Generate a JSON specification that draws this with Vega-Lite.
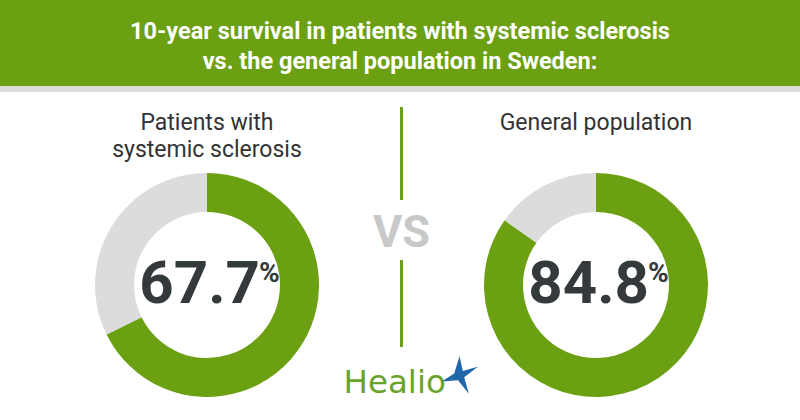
{
  "$schema": "https://vega.github.io/schema/vega-lite/v6.json",
  "padding": 0,
  "background": "#dcdcdc",
  "spacing": 6,
  "config": {"view": {"stroke": null}, "concat": {"spacing": 6}},
  "vconcat": [
    {
      "width": 800,
      "height": 86,
      "view": {"fill": "#6ba012", "stroke": null},
      "data": {"values": [
        {"line": 1, "text": "10-year survival in patients with systemic sclerosis"},
        {"line": 2, "text": "vs. the general population in Sweden:"}
      ]},
      "mark": {"type": "text", "font": "Roboto", "fontWeight": "bold", "fontSize": 23.5, "color": "#ffffff", "align": "center", "baseline": "alphabetic"},
      "encoding": {
        "y": {"field": "line", "type": "ordinal", "scale": {"type": "point", "domain": [1, 2], "range": [39, 69], "padding": 0}, "axis": null},
        "text": {"field": "text"}
      }
    },
    {
      "width": 800,
      "height": 328,
      "view": {"fill": "#ffffff", "stroke": null},
      "resolve": {"scale": {"y": "independent"}},
      "layer": [
        {
          "data": {"values": [
            {"col": "left", "line": 1, "text": "Patients with"},
            {"col": "left", "line": 2, "text": "systemic sclerosis"},
            {"col": "right", "line": 1, "text": "General population"}
          ]},
          "mark": {"type": "text", "font": "Roboto", "fontSize": 23, "color": "#333333", "align": "center", "baseline": "alphabetic"},
          "encoding": {
            "x": {"field": "col", "type": "nominal", "scale": {"type": "point", "domain": ["left", "mid", "right"], "range": [207, 596], "padding": 0}, "axis": null},
            "y": {"field": "line", "type": "ordinal", "scale": {"type": "point", "domain": [1, 2], "range": [38, 65], "padding": 0}, "axis": null},
            "text": {"field": "text"}
          }
        },
        {
          "data": {"values": [
            {"col": "left", "slot": "donut", "part": "survival", "start": 0, "end": 67.7},
            {"col": "left", "slot": "donut", "part": "other", "start": 67.7, "end": 100},
            {"col": "right", "slot": "donut", "part": "survival", "start": 0, "end": 84.8},
            {"col": "right", "slot": "donut", "part": "other", "start": 84.8, "end": 100}
          ]},
          "mark": {"type": "arc", "outerRadius": 112, "innerRadius": 73},
          "encoding": {
            "x": {"field": "col", "type": "nominal", "scale": {"type": "point", "domain": ["left", "mid", "right"], "range": [207, 596], "padding": 0}, "axis": null},
            "y": {"field": "slot", "type": "nominal", "scale": {"type": "point", "domain": ["donut"], "range": [193, 193], "padding": 0}, "axis": null},
            "theta": {"field": "start", "type": "quantitative", "stack": null, "scale": {"domain": [0, 100]}},
            "theta2": {"field": "end"},
            "color": {"field": "part", "type": "nominal", "scale": {"domain": ["survival", "other"], "range": ["#6ba012", "#dcdcdc"]}, "legend": null}
          }
        },
        {
          "data": {"values": [
            {"col": "left", "slot": "donut", "num": "67.7", "pct": "%"},
            {"col": "right", "slot": "donut", "num": "84.8", "pct": "%"}
          ]},
          "encoding": {
            "x": {"field": "col", "type": "nominal", "scale": {"type": "point", "domain": ["left", "mid", "right"], "range": [207, 596], "padding": 0}, "axis": null},
            "y": {"field": "slot", "type": "nominal", "scale": {"type": "point", "domain": ["donut"], "range": [193, 193], "padding": 0}, "axis": null}
          },
          "layer": [
            {
              "mark": {"type": "text", "font": "Roboto", "fontWeight": "bold", "fontSize": 60, "color": "#34393b", "align": "right", "baseline": "alphabetic", "dx": 53, "dy": 18},
              "encoding": {"text": {"field": "num"}}
            },
            {
              "mark": {"type": "text", "font": "Roboto", "fontWeight": "bold", "fontSize": 28, "color": "#34393b", "align": "left", "baseline": "alphabetic", "dx": 52, "dy": -3},
              "encoding": {"text": {"field": "pct"}}
            }
          ]
        },
        {
          "data": {"values": [{"col": "mid", "slot": "vs", "text": "VS"}]},
          "mark": {"type": "text", "font": "Roboto", "fontWeight": "bold", "fontSize": 45, "color": "#c8c8c8", "align": "center", "baseline": "alphabetic"},
          "encoding": {
            "x": {"field": "col", "type": "nominal", "scale": {"type": "point", "domain": ["left", "mid", "right"], "range": [207, 596], "padding": 0}, "axis": null},
            "y": {"field": "slot", "type": "nominal", "scale": {"type": "point", "domain": ["vs"], "range": [155, 155], "padding": 0}, "axis": null},
            "text": {"field": "text"}
          }
        },
        {
          "data": {"values": [{"col": "mid", "from": "start", "to": "end"}]},
          "mark": {"type": "rule", "color": "#6ba012", "strokeWidth": 3},
          "encoding": {
            "x": {"field": "col", "type": "nominal", "scale": {"type": "point", "domain": ["left", "mid", "right"], "range": [207, 596], "padding": 0}, "axis": null},
            "y": {"field": "from", "type": "nominal", "scale": {"type": "point", "domain": ["start", "end"], "range": [15, 108], "padding": 0}, "axis": null},
            "y2": {"field": "to"}
          }
        },
        {
          "data": {"values": [{"col": "mid", "from": "start", "to": "end"}]},
          "mark": {"type": "rule", "color": "#6ba012", "strokeWidth": 3},
          "encoding": {
            "x": {"field": "col", "type": "nominal", "scale": {"type": "point", "domain": ["left", "mid", "right"], "range": [207, 596], "padding": 0}, "axis": null},
            "y": {"field": "from", "type": "nominal", "scale": {"type": "point", "domain": ["start", "end"], "range": [168, 255], "padding": 0}, "axis": null},
            "y2": {"field": "to"}
          }
        },
        {
          "data": {"values": [{"col": "mid", "slot": "logo", "text": "Healio"}]},
          "mark": {"type": "text", "font": "DejaVu Sans", "fontSize": 32.5, "color": "#6aa32a", "align": "left", "baseline": "alphabetic", "dx": -58},
          "encoding": {
            "x": {"field": "col", "type": "nominal", "scale": {"type": "point", "domain": ["left", "mid", "right"], "range": [207, 596], "padding": 0}, "axis": null},
            "y": {"field": "slot", "type": "nominal", "scale": {"type": "point", "domain": ["logo"], "range": [301, 301], "padding": 0}, "axis": null},
            "text": {"field": "text"}
          }
        },
        {
          "data": {"values": [{"col": "mid", "slot": "star"}]},
          "mark": {"type": "point", "filled": true, "color": "#2166a8", "opacity": 1, "size": 1400, "shape": "M0,-1 L0.18,-0.22 L1,-0.45 L0.25,0.12 L0.5,1 L-0.08,0.28 L-0.95,0.35 L-0.28,-0.08 Z", "xOffset": 58},
          "encoding": {
            "x": {"field": "col", "type": "nominal", "scale": {"type": "point", "domain": ["left", "mid", "right"], "range": [207, 596], "padding": 0}, "axis": null},
            "y": {"field": "slot", "type": "nominal", "scale": {"type": "point", "domain": ["star"], "range": [283, 283], "padding": 0}, "axis": null}
          }
        }
      ]
    }
  ]
}
